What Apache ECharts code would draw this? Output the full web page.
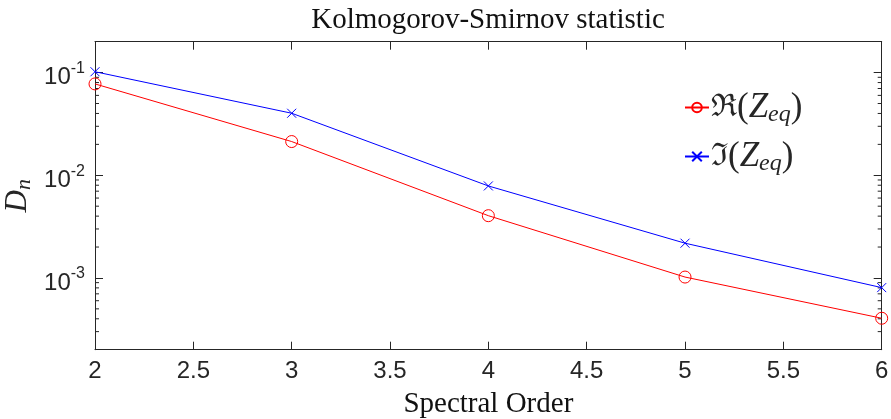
<!DOCTYPE html>
<html>
<head>
<meta charset="utf-8">
<script src="https://cdn.jsdelivr.net/npm/echarts@6/dist/echarts.min.js"></script>
<style>
  html, body { margin: 0; padding: 0; background: #ffffff; }
  #chart { width: 891px; height: 419px; }
</style>
</head>
<body>
<div id="chart"></div>
<script>
// Spectral orders on the horizontal axis
const spectralOrder = [2, 3, 4, 5, 6];
// Kolmogorov-Smirnov statistic D_n for the real and imaginary parts of Z_eq
const realPart = [0.0776, 0.0213, 0.00404, 0.00102, 0.000405];
const imagPart = [0.102, 0.0402, 0.00787, 0.00218, 0.000805];
// Axis ranges and tick labels
const xTicks = ['2', '2.5', '3', '3.5', '4', '4.5', '5', '5.5', '6'];
const yRange = [2e-4, 2e-1];

const ink = '#262626';
const serif = '"Liberation Serif", "DejaVu Serif", serif';
const sans = '"Liberation Sans", Arial, sans-serif';

// minor ticks of the log axis: 2..9 times each power of ten inside the range
const minorTicks = [];
for (let e = -4; e <= -1; e++) {
  for (let k = 2; k <= 9; k++) {
    const v = k * Math.pow(10, e);
    if (v > yRange[0] && v < yRange[1]) minorTicks.push(v);
  }
}

const legendRich = {
  f: { fontFamily: '"DejaVu Serif", serif', fontSize: 31, color: ink },
  p: { fontFamily: serif, fontSize: 35, color: ink },
  z: { fontFamily: serif, fontStyle: 'italic', fontSize: 35, color: ink },
  s: { fontFamily: serif, fontStyle: 'italic', fontSize: 24, color: ink, padding: [14, 0, 0, 0] }
};
const legendNames = { Re: '{f|ℜ}{p|(}{z|Z}{s|eq}{p|)}', Im: '{f|ℑ}{p|(}{z|Z}{s|eq}{p|)}' };

function legendFor(name, top) {
  return {
    data: [name],
    orient: 'vertical',
    left: 684,
    top: top,
    itemWidth: 24,
    itemHeight: 12,
    itemGap: 0,
    padding: 0,
    selectedMode: false,
    formatter: n => legendNames[n],
    textStyle: { rich: legendRich, padding: [0, 0, 0, -3] }
  };
}

const chart = echarts.init(document.getElementById('chart'), null, { renderer: 'canvas' });

chart.setOption({
  animation: false,
  backgroundColor: '#ffffff',
  title: {
    text: 'Kolmogorov-Smirnov statistic',
    left: 483,
    textAlign: 'center',
    top: 1,
    textStyle: { fontFamily: serif, fontWeight: 'normal', fontSize: 29, color: '#111111' }
  },
  legend: [legendFor('Re', 90), legendFor('Im', 139)],
  grid: { left: 95, right: 9.3, top: 41.7, bottom: 69.3, containLabel: false, outerBoundsMode: 'none' },
  xAxis: [
    {
      type: 'value',
      min: 2, max: 6, interval: 0.5,
      name: 'Spectral Order',
      nameLocation: 'middle',
      nameGap: 40,
      nameTextStyle: { fontFamily: serif, fontSize: 29, color: '#111111' },
      axisLine: { lineStyle: { color: ink, width: 1 } },
      axisTick: { inside: true, length: 8, lineStyle: { color: ink } },
      axisLabel: {
        margin: 10, fontFamily: sans, fontSize: 24, color: ink,
        formatter: v => xTicks[Math.round((v - 2) / 0.5)]
      },
      splitLine: { show: false }
    },
    {
      type: 'value', position: 'top',
      min: 2, max: 6, interval: 0.5,
      axisLine: { lineStyle: { color: ink, width: 1 } },
      axisTick: { inside: true, length: 8, lineStyle: { color: ink } },
      axisLabel: { show: false },
      splitLine: { show: false }
    }
  ],
  yAxis: [
    {
      type: 'log', logBase: 10,
      min: yRange[0], max: yRange[1],
      name: '{d|D}{n|n}',
      nameLocation: 'middle',
      nameRotate: 90,
      nameGap: 60,
      nameMoveOverlap: false,
      nameTextStyle: {
        rich: {
          d: { fontFamily: serif, fontStyle: 'italic', fontSize: 31, color: ink },
          n: { fontFamily: serif, fontStyle: 'italic', fontSize: 22, color: ink, padding: [12, 0, 0, 0] }
        }
      },
      axisLine: { lineStyle: { color: ink, width: 1 } },
      axisTick: { inside: true, length: 8, lineStyle: { color: ink } },
      axisLabel: {
        margin: 10,
        showMinLabel: false, showMaxLabel: false,
        formatter: v => '{b|10}{e|' + Math.round(Math.log10(v)) + '}',
        rich: {
          b: { fontFamily: sans, fontSize: 24, color: ink, padding: [10, 0, 0, 0] },
          e: { fontFamily: sans, fontSize: 16, color: ink, padding: [0, 0, 8, 0] }
        }
      },
      splitLine: { show: false }
    },
    {
      type: 'log', logBase: 10, position: 'right',
      min: yRange[0], max: yRange[1],
      axisLine: { lineStyle: { color: ink, width: 1 } },
      axisTick: { inside: true, length: 8, lineStyle: { color: ink } },
      axisLabel: { show: false },
      splitLine: { show: false }
    }
  ],
  series: [
    {
      name: 'Re',
      type: 'line',
      data: spectralOrder.map((x, i) => [x, realPart[i]]),
      color: '#ff0000',
      lineStyle: { width: 1, color: '#ff0000' },
      symbol: 'circle',
      symbolSize: 12,
      itemStyle: { color: 'rgba(255,255,255,0)', borderColor: '#ff0000', borderWidth: 1 },
      showAllSymbol: true,
      clip: false,
      z: 3
    },
    {
      name: 'Im',
      type: 'line',
      data: spectralOrder.map((x, i) => [x, imagPart[i]]),
      color: '#0000ff',
      lineStyle: { width: 1, color: '#0000ff' },
      symbol: 'path://M0,0L10,10M10,0L0,10',
      symbolSize: 9,
      itemStyle: { color: 'rgba(0,0,0,0)', borderColor: '#0000ff', borderWidth: 1 },
      showAllSymbol: true,
      clip: false,
      z: 3
    },
    {
      // minor ticks on the left and right edges of the log axis
      type: 'custom',
      silent: true,
      clip: false,
      data: minorTicks.map(v => [v]),
      dimensions: ['v'],
      encode: { y: 0 },
      renderItem: (params, api) => {
        const v = api.value(0);
        const l = api.coord([2, v]);
        const r = api.coord([6, v]);
        const st = { stroke: ink, lineWidth: 1 };
        return {
          type: 'group',
          children: [
            { type: 'line', shape: { x1: l[0], y1: l[1], x2: l[0] + 4, y2: l[1] }, style: st },
            { type: 'line', shape: { x1: r[0], y1: r[1], x2: r[0] - 4, y2: r[1] }, style: st }
          ]
        };
      },
      z: 2
    }
  ]
});
</script>
</body>
</html>
